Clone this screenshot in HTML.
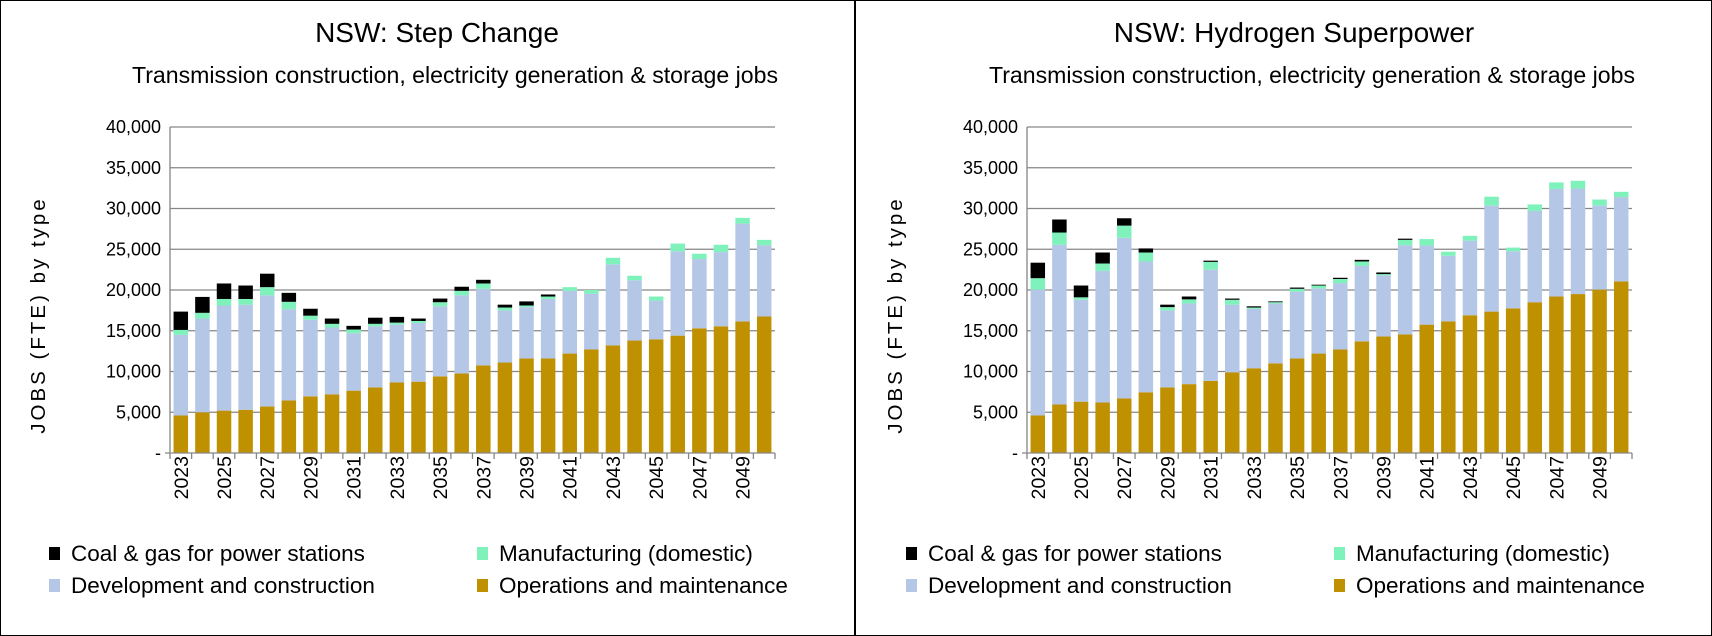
<!DOCTYPE html>
<html><head><meta charset="utf-8"><style>
body{margin:0;background:#fff;}
svg{display:block;font-family:"Liberation Sans",sans-serif;}
</style></head><body>
<svg id="s" width="1712" height="636" viewBox="0 0 1712 636" xmlns="http://www.w3.org/2000/svg">
<rect x="0.5" y="0.5" width="1711" height="635" fill="#fff" stroke="#000"/>
<line x1="855" y1="0" x2="855" y2="636" stroke="#000" stroke-width="2"/>
</svg>
<script>
const years = [2023,2024,2025,2026,2027,2028,2029,2030,2031,2032,2033,2034,2035,2036,2037,2038,2039,2040,2041,2042,2043,2044,2045,2046,2047,2048,2049,2050];
const yTicks = [0,5000,10000,15000,20000,25000,30000,35000,40000];
const yTickLabels = ["-","5,000","10,000","15,000","20,000","25,000","30,000","35,000","40,000"];
const seriesNames = ["Operations and maintenance","Development and construction","Manufacturing (domestic)","Coal & gas for power stations"];
const seriesColors = ["#BF9000","#B4C7E7","#7FF2BB","#000000"];
// Step Change
const scOM = [4600,5000,5200,5300,5700,6450,6950,7200,7650,8050,8650,8750,9400,9750,10750,11100,11600,11600,12200,12700,13200,13800,13950,14400,15300,15550,16150,16750];
const scDev = [9900,11500,12900,12900,13650,11200,9400,8200,7050,7500,7100,7200,8600,9600,9400,6400,6300,7300,7700,6850,9950,7400,4750,10350,8500,9100,12000,8750];
const scManu = [600,700,800,700,1000,900,500,450,450,300,250,250,500,550,650,350,200,300,450,450,800,550,500,950,650,900,700,650];
const scCoal = [2250,1950,1900,1650,1650,1100,850,650,450,750,700,300,450,500,450,350,500,250,0,0,0,0,0,0,0,0,0,0];
// Hydrogen Superpower
const hsOM = [4600,5950,6300,6200,6700,7450,8050,8450,8850,9900,10400,11000,11600,12200,12700,13700,14300,14550,15750,16150,16900,17350,17750,18500,19200,19500,20050,21050];
const hsDev = [15450,19600,12500,16150,19700,16050,9450,9900,13650,8300,7300,7350,8200,8000,8150,9250,7500,10950,9700,8050,9150,13000,7000,11200,13200,12950,10300,10350];
const hsManu = [1400,1500,300,900,1500,1100,400,500,950,600,150,150,350,350,500,550,150,650,800,500,600,1100,450,800,800,950,750,650];
const hsCoal = [1900,1600,1450,1350,900,500,300,350,150,150,150,100,150,100,150,200,200,150,0,0,0,0,0,0,0,0,0,0];

const NS="http://www.w3.org/2000/svg";
const svg=document.getElementById('s');
function mk(tag,attrs,parent,text){const e=document.createElementNS(NS,tag);for(const k in attrs)e.setAttribute(k,attrs[k]);if(text!==undefined)e.textContent=text;(parent||svg).appendChild(e);return e;}

function drawChart(prefix,ox,title,series){
  const g=mk('g',{});
  
  
  const left=ox+170, right=ox+775, top=127, bottom=453, yMax=40000;
  const y=v=>bottom-(v/yMax)*(bottom-top);
  const slot=(right-left)/years.length;
  const x=i=>left+slot*i;
  const bw=slot*0.67;
  let t=mk('text',{x:ox+437,y:42,'text-anchor':'middle','font-size':28,fill:'#000'},g,title);
  
  
  t=mk('text',{x:ox+455,y:83,'text-anchor':'middle','font-size':23.1,fill:'#000'},g,'Transmission construction, electricity generation & storage jobs');
  
  
  yTicks.forEach((v,i)=>{
    if(v>0){const l=mk('line',{x1:left,x2:right,y1:y(v),y2:y(v),stroke:'#868686','stroke-width':1.3},g);
      
      }
    const lb=mk('text',{x:left-9,y:y(v)+6,'text-anchor':'end','font-size':18,fill:'#000'},g,yTickLabels[i]);
    
    
  });
  const yt=mk('text',{transform:`translate(${ox+45},315) rotate(-90)`,'text-anchor':'middle','font-size':20.5,'letter-spacing':'3',fill:'#000'},g,'JOBS (FTE) by type');
  
  
  years.forEach((yr,i)=>{
    let base=0;
    series.forEach((arr,s)=>{
      const v=arr[i]; if(v<=0)return;
      const r=mk('rect',{x:x(i)+(slot-bw)/2,y:y(base+v),width:bw,height:y(base)-y(base+v),fill:seriesColors[s]},g);
      
      
      base+=v;
    });
    if(i%2===0){
      const cx=x(i)+slot/2;
      const lb=mk('text',{transform:`translate(${cx+7},456) rotate(-90)`,'text-anchor':'end','font-size':19.5,fill:'#000'},g,String(yr));
      
      
    }
  });
  const ax=mk('line',{x1:left,x2:left,y1:top,y2:bottom,stroke:'#868686','stroke-width':1.3},g);
  
  
  const xa=mk('line',{x1:left-5,x2:right,y1:bottom,y2:bottom,stroke:'#868686','stroke-width':1.3},g);
  
  
  for(let i=0;i<=years.length;i++){
    const tk=mk('line',{x1:x(i),x2:x(i),y1:bottom,y2:bottom+6,stroke:'#868686','stroke-width':1.3},g);
    
    
  }
  const leg=[[3,49,556],[2,477,556],[1,49,588],[0,477,588]];
  leg.forEach(([s,lx,ly])=>{
    const sw=mk('rect',{x:ox+lx,y:ly-9,width:11,height:13,fill:seriesColors[s]},g);
    
    
    const lt=mk('text',{x:ox+lx+22,y:ly+5,'font-size':22.5,fill:'#000'},g,seriesNames[s]);
    
    
  });
}
drawChart('step-change',0,'NSW: Step Change',[scOM,scDev,scManu,scCoal]);
drawChart('hydrogen',857,'NSW: Hydrogen Superpower',[hsOM,hsDev,hsManu,hsCoal]);
</script>
</body></html>
